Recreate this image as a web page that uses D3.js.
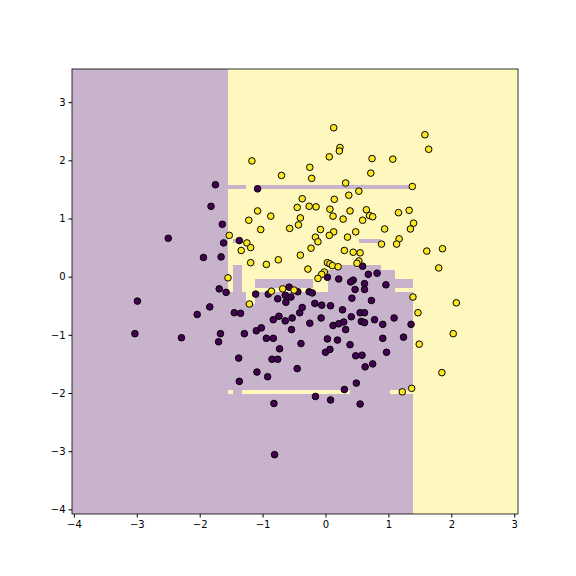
<!DOCTYPE html>
<html>
<head>
<meta charset="utf-8">
<script src="https://cdn.jsdelivr.net/npm/d3@7"></script>
<style>
body { margin: 0; background: #fff; }
text { font-family: "DejaVu Sans", sans-serif; }
</style>
</head>
<body>
<div id="chart-area"></div>
<script>
// decision regions painted in order: [x0, x1, y0, y1, class]
const regions = [
    [-4.03, 3.06, -4.08, 3.57, 0],
    [-1.543, 3.06, -4.08, 3.57, 1],
    [-1.543, 1.384, -4.08, -0.189, 0],
    [-1.543, 0.032, -0.258, -0.189, 1],
    [1.098, 1.384, -0.258, -0.189, 1],
    [-1.257, -1.114, -0.464, -0.189, 1],
    [0.032, 0.175, -0.189, 0.120, 0],
    [0.175, 0.875, -0.189, 0.206, 0],
    [0.875, 1.098, -0.189, 0.120, 0],
    [1.098, 1.384, -0.189, -0.034, 0],
    [-1.114, -0.191, -0.189, -0.034, 0],
    [-1.464, -1.320, -0.464, 0.206, 0],
    [-1.464, -1.368, 0.584, 0.653, 0],
    [0.525, 0.875, 0.584, 0.653, 0],
    [-1.543, -1.257, 1.512, 1.581, 0],
    [-1.114, 1.384, 1.512, 1.581, 0],
    [-1.543, -1.464, -2.010, -1.942, 1],
    [-1.320, 0.382, -2.010, -1.942, 1],
    [1.018, 1.384, -2.010, -1.942, 1]
];

const yellowX = [-1.17,-0.70,-1.08,-0.87,-1.22,-1.03,-0.45,-0.37,-0.40,-0.57,-0.43,-1.53,-1.25,-1.19,-1.34,-1.19,-0.94,-0.75,-0.40,-1.55,-0.86,-0.68,-0.50,
    0.13,1.58,1.64,0.23,0.22,0.06,0.74,1.07,-0.25,-0.22,0.72,0.32,1.38,0.53,0.37,0.14,-0.26,-0.15,0.07,0.39,0.65,0.12,0.28,0.70,0.75,0.59,1.16,1.33,1.40,1.35,
    -0.08,0.13,0.06,-0.16,-0.12,0.48,0.35,0.94,1.17,1.13,0.89,-0.23,0.30,0.44,0.55,1.61,1.86,1.80,-0.28,0.03,0.07,0.11,0.20,0.53,0.50,-0.02,-0.06,-0.12,
    -1.21,1.39,1.47,2.08,2.03,1.49,1.85,1.37,1.22];
const yellowY = [1.99,1.74,1.13,1.04,0.97,0.81,1.19,1.34,1.01,0.83,0.89,0.71,0.58,0.50,0.45,0.24,0.21,0.29,0.37,-0.02,-0.25,-0.21,-0.23,
    2.56,2.44,2.19,2.22,2.16,2.06,2.03,2.02,1.88,1.69,1.78,1.61,1.55,1.47,1.40,1.33,1.21,1.20,1.16,1.13,1.15,1.04,0.99,1.05,1.03,0.97,1.10,1.14,0.92,0.82,
    0.81,0.77,0.71,0.68,0.60,0.77,0.68,0.82,0.65,0.56,0.56,0.49,0.45,0.42,0.41,0.44,0.48,0.15,0.13,0.24,0.22,0.19,0.17,0.27,0.23,0.08,0.04,-0.03,
    -0.47,-0.35,-0.62,-0.45,-0.98,-1.16,-1.65,-1.92,-1.98];

const purpleX = [-1.75,-1.08,-1.82,-1.64,-2.50,-1.37,-1.62,-1.94,-1.66,-1.69,-1.58,-1.11,-0.58,-0.44,0.59,0.68,0.82,0.03,0.21,0.44,0.40,0.62,0.96,0.47,0.62,
    -0.26,-0.21,-0.91,-0.76,-0.64,-0.55,-0.63,-0.41,-0.37,-0.17,-0.06,0.08,0.27,0.42,0.73,-1.45,-1.35,-0.83,-0.74,-0.64,-0.53,-0.54,-0.25,-0.07,0.12,0.21,0.29,
    0.32,0.41,0.55,0.62,0.57,0.62,0.78,0.91,1.09,1.36,-1.10,-1.02,-1.29,-0.94,-0.83,0.03,0.19,0.91,1.24,-1.67,-2.99,-3.03,-2.29,-2.04,-1.84,-1.70,-0.39,-0.73,
    -1.38,-0.85,-0.76,-0.45,-1.09,-0.92,-1.37,-0.82,-0.81,0.39,0.97,0.00,0.07,0.48,0.58,0.63,0.75,0.49,0.30,-0.16,0.08,0.55];
const purpleY = [1.58,1.51,1.21,0.90,0.66,0.62,0.58,0.33,0.34,-0.21,-0.27,-0.30,-0.18,-0.26,0.18,0.04,0.06,-0.01,-0.04,-0.06,-0.09,-0.12,-0.14,-0.22,-0.22,
    -0.26,-0.28,-0.30,-0.38,-0.32,-0.35,-0.44,-0.62,-0.53,-0.46,-0.49,-0.50,-0.57,-0.37,-0.41,-0.62,-0.63,-0.74,-0.68,-0.76,-0.71,-0.91,-0.80,-0.71,-0.84,-0.81,-0.78,
    -0.91,-0.69,-0.62,-0.62,-0.77,-0.79,-0.74,-0.82,-0.71,-0.82,-0.93,-0.88,-0.98,-1.06,-1.06,-1.07,-1.09,-1.06,-1.04,-0.98,-0.42,-0.98,-1.05,-0.65,-0.52,-1.12,-1.15,-1.24,
    -1.40,-1.42,-1.42,-1.58,-1.64,-1.72,-1.80,-2.18,-3.06,-1.17,-1.30,-1.30,-1.25,-1.36,-1.35,-1.55,-1.50,-1.83,-1.94,-2.06,-2.12,-2.19];

const xTicks = [-4, -3, -2, -1, 0, 1, 2, 3];
const yTicks = [-4, -3, -2, -1, 0, 1, 2, 3];

const classColor = ["#440154", "#fde725"];
const regionColor = ["#c7b3cc", "#fef8be"];

const svg = d3.select("#chart-area").append("svg")
    .attr("width", 576)
    .attr("height", 576);

const x = d3.scaleLinear().domain([-4.03, 3.06]).range([72, 518]);
const y = d3.scaleLinear().domain([-4.08, 3.57]).range([514, 69]);

svg.selectAll("rect.region")
    .data(regions)
    .enter()
    .append("rect")
    .attr("class", "region")
    .attr("x", d => x(d[0]))
    .attr("y", d => y(d[3]))
    .attr("width", d => x(d[1]) - x(d[0]))
    .attr("height", d => y(d[2]) - y(d[3]))
    .attr("fill", d => regionColor[d[4]])
    .attr("shape-rendering", "crispEdges");

const pts = purpleX.map((v, i) => ({ x: v, y: purpleY[i], c: 0 }))
    .concat(yellowX.map((v, i) => ({ x: v, y: yellowY[i], c: 1 })));

svg.selectAll("circle")
    .data(pts)
    .enter()
    .append("circle")
    .attr("cx", d => x(d.x))
    .attr("cy", d => y(d.y))
    .attr("r", 3.3)
    .attr("fill", d => classColor[d.c])
    .attr("stroke", "#000")
    .attr("stroke-width", 1);

svg.append("g")
    .attr("transform", "translate(0,514)")
    .call(d3.axisBottom(x).tickValues(xTicks).tickSize(3.5).tickPadding(3).tickFormat(d3.format("d")))
    .call(g => g.select(".domain").remove())
    .selectAll("text").attr("font-size", 10).attr("fill", "#000");

svg.append("g")
    .attr("transform", "translate(72,0)")
    .call(d3.axisLeft(y).tickValues(yTicks).tickSize(3.5).tickPadding(3).tickFormat(d3.format("d")))
    .call(g => g.select(".domain").remove())
    .selectAll("text").attr("font-size", 10).attr("fill", "#000");

svg.append("rect")
    .attr("x", 72).attr("y", 69)
    .attr("width", 446).attr("height", 445)
    .attr("fill", "none")
    .attr("stroke", "#000")
    .attr("stroke-width", 0.8);
</script>
</body>
</html>
